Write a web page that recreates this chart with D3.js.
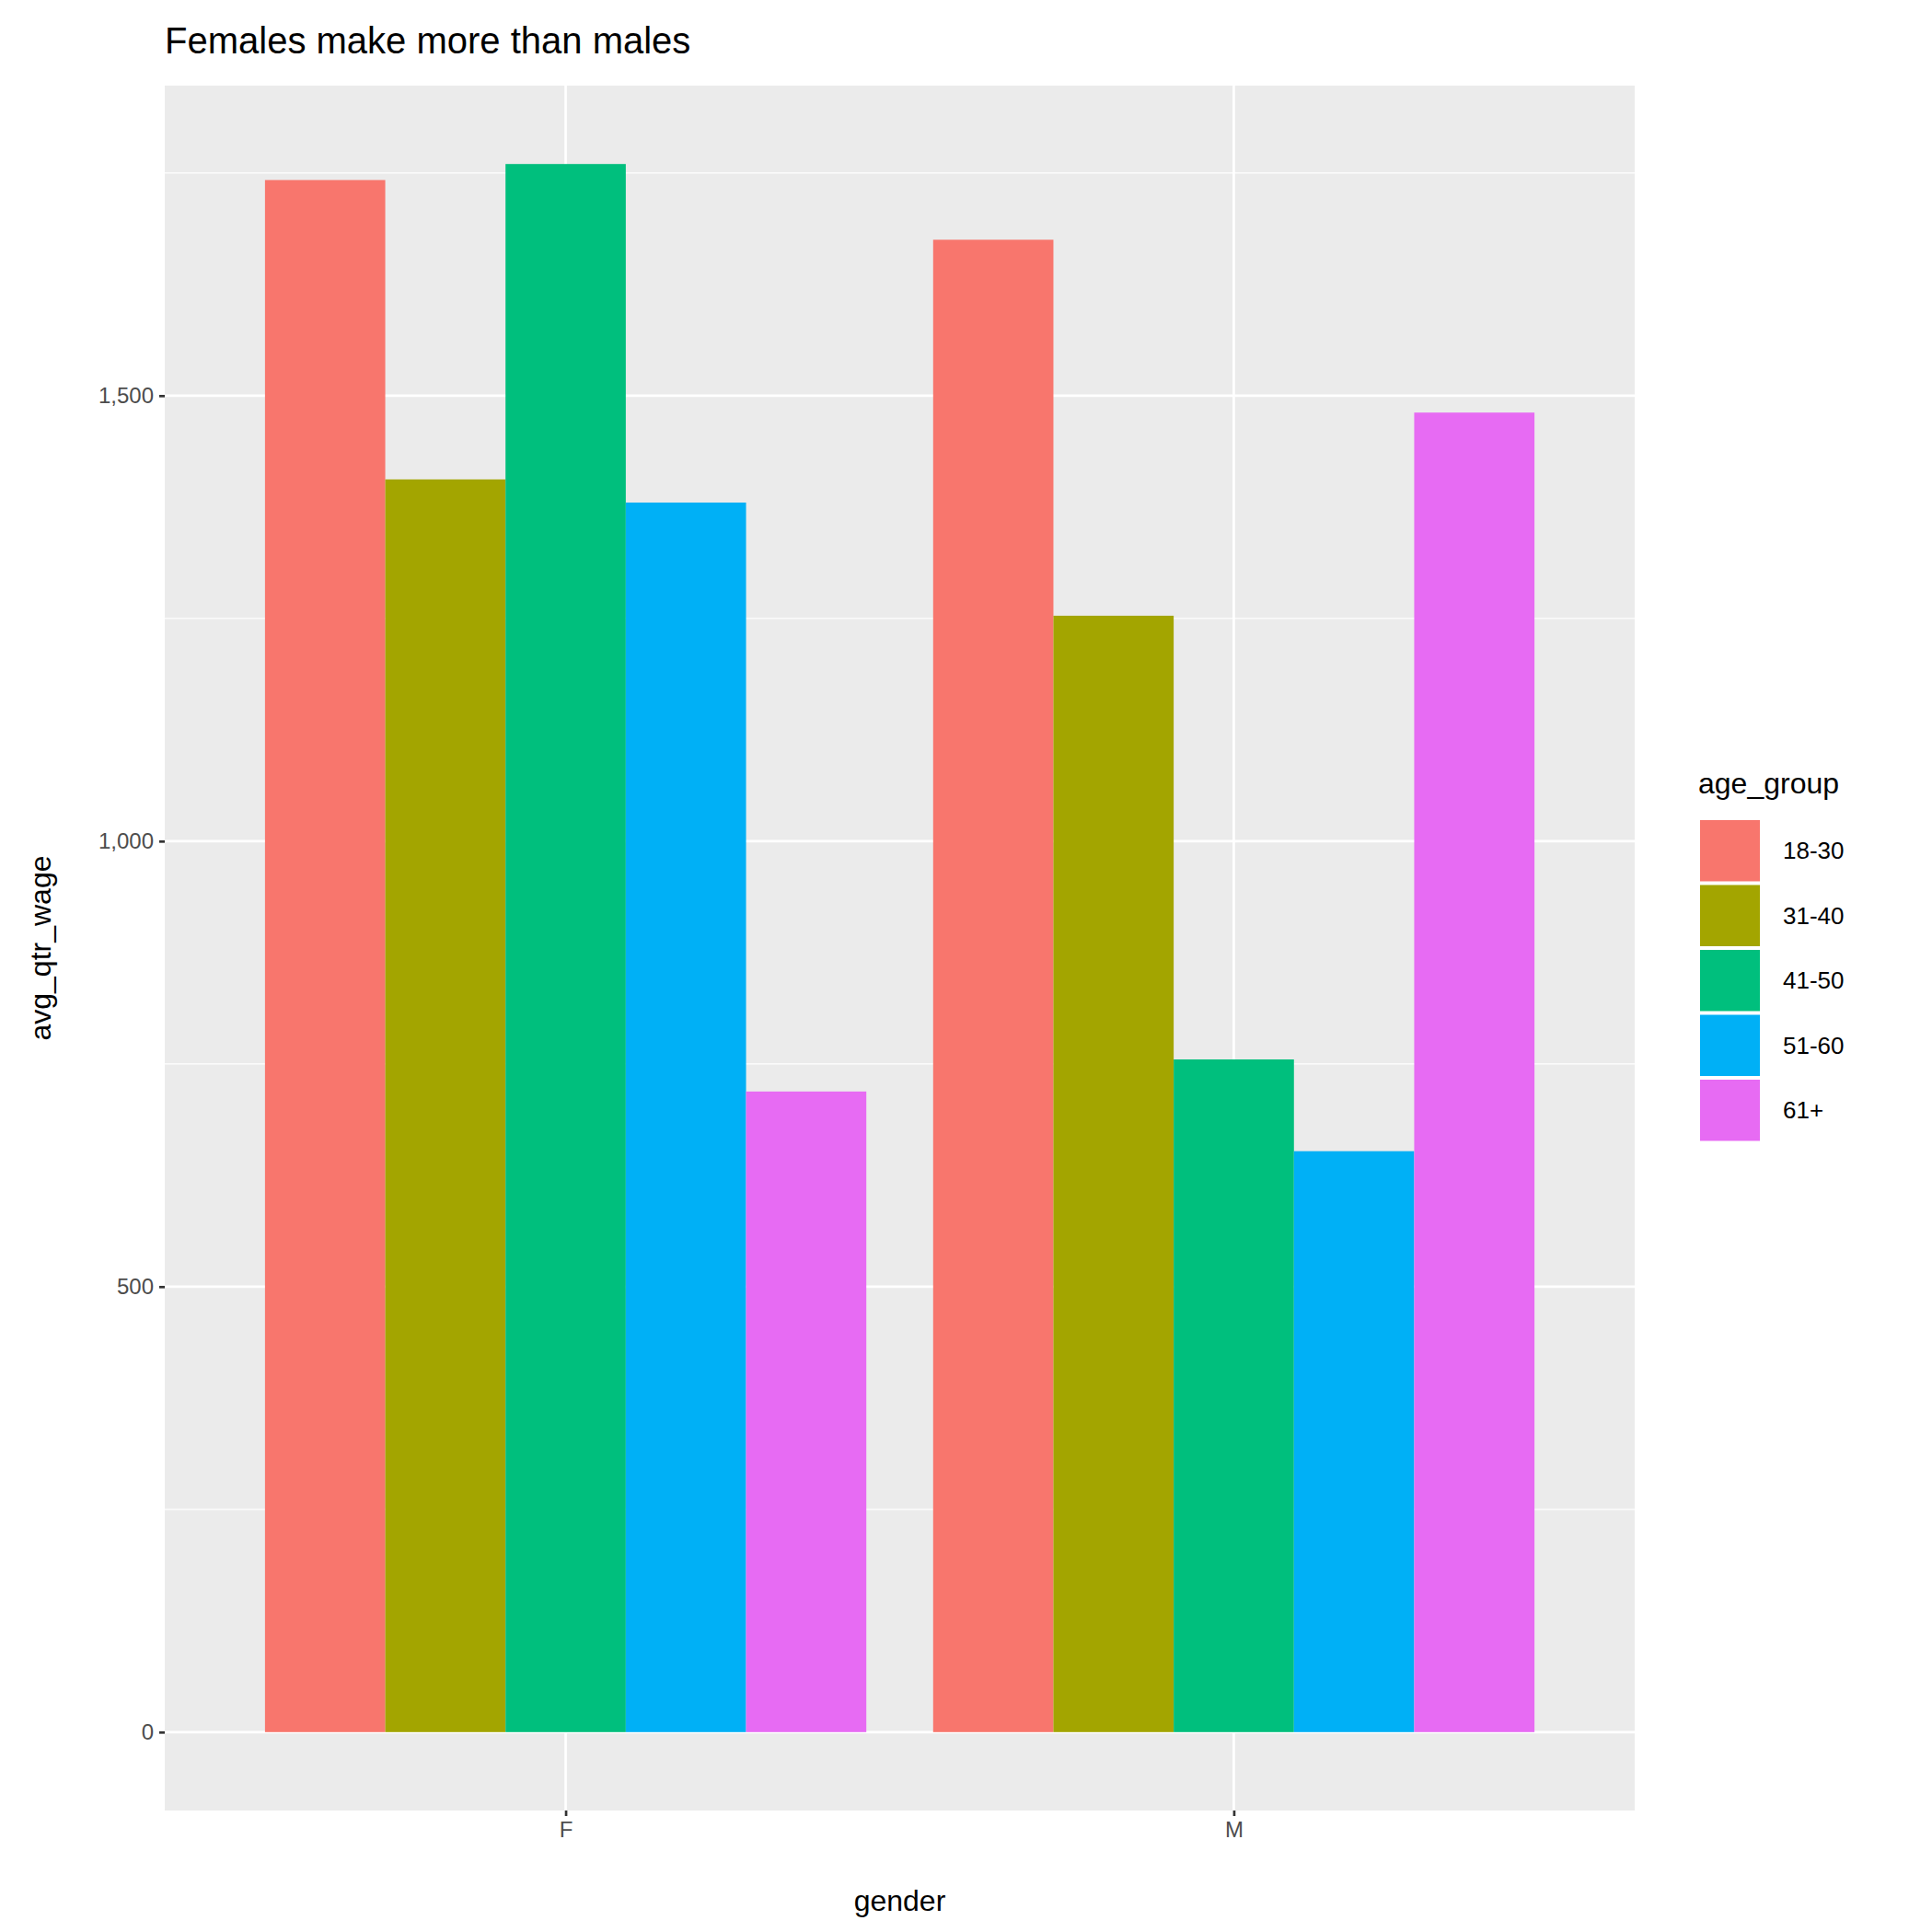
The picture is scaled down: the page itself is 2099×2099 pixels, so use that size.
<!DOCTYPE html>
<html><head><meta charset="utf-8">
<script src="https://cdn.jsdelivr.net/npm/d3@7"></script>
<style>body{margin:0;background:#fff}text{font-family:"Liberation Sans",Arial,sans-serif}</style>
</head><body><svg id="chart"></svg>
<script>
// data
const genders = ["F", "M"];
const ageGroups = ["18-30", "31-40", "41-50", "51-60", "61+"];
const wageF = [1742, 1406, 1760, 1380, 719];
const wageM = [1675, 1253, 755, 652, 1481];
const colors = ["#F8766D", "#A3A500", "#00BF7D", "#00B0F6", "#E76BF3"];
const yTicks = [0, 500, 1000, 1500];

const width = 2099, height = 2099;
const panel = { left: 179, right: 1776, top: 93, bottom: 1967 };

const rows = [];
genders.forEach((g, gi) => {
  const vals = gi === 0 ? wageF : wageM;
  ageGroups.forEach((a, ai) => rows.push({ g: g, a: a, v: vals[ai] }));
});

const svg = d3.select("#chart").attr("width", width).attr("height", height);

const ymax = d3.max(rows, d => d.v);
const yScale = d3.scaleLinear()
  .domain([-ymax * 0.05, ymax * 1.05])
  .range([panel.bottom, panel.top]);

const xScale = d3.scaleLinear()
  .domain([0.4, 2.6])
  .range([panel.left, panel.right]);

const sub = d3.scaleBand().domain(ageGroups).range([-0.45, 0.45]);
const colorScale = d3.scaleOrdinal().domain(ageGroups).range(colors);

// panel background
svg.append("rect")
  .attr("x", panel.left).attr("y", panel.top)
  .attr("width", panel.right - panel.left).attr("height", panel.bottom - panel.top)
  .attr("fill", "#EBEBEB");

// minor grid
const minor = [250, 750, 1250, 1750];
svg.selectAll(".minor").data(minor).enter().append("line")
  .attr("x1", panel.left).attr("x2", panel.right)
  .attr("y1", d => yScale(d)).attr("y2", d => yScale(d))
  .attr("stroke", "#fff").attr("stroke-width", 1.3);

// major grid
svg.selectAll(".major").data(yTicks).enter().append("line")
  .attr("x1", panel.left).attr("x2", panel.right)
  .attr("y1", d => yScale(d)).attr("y2", d => yScale(d))
  .attr("stroke", "#fff").attr("stroke-width", 2.7);
svg.selectAll(".vmajor").data(genders).enter().append("line")
  .attr("x1", (d, i) => xScale(i + 1)).attr("x2", (d, i) => xScale(i + 1))
  .attr("y1", panel.top).attr("y2", panel.bottom)
  .attr("stroke", "#fff").attr("stroke-width", 2.7);

// bars
svg.selectAll(".bar").data(rows).enter().append("rect")
  .attr("x", d => xScale(genders.indexOf(d.g) + 1 + sub(d.a)))
  .attr("width", xScale(1 + sub.bandwidth()) - xScale(1))
  .attr("y", d => yScale(d.v))
  .attr("height", d => yScale(0) - yScale(d.v))
  .attr("fill", d => colorScale(d.a));

// y axis
const yAxis = svg.append("g").attr("transform", "translate(" + panel.left + ",0)")
  .call(d3.axisLeft(yScale).tickValues(yTicks).tickSize(6).tickPadding(6));
yAxis.select(".domain").remove();
yAxis.selectAll("line").attr("stroke", "#333").attr("stroke-width", 2.7);
yAxis.selectAll("text").attr("fill", "#4D4D4D").style("font-size", "24px");

// x axis
const xAxis = svg.append("g").attr("transform", "translate(0," + panel.bottom + ")")
  .call(d3.axisBottom(xScale).tickValues([1, 2]).tickFormat(d => genders[d - 1]).tickSize(6).tickPadding(6));
xAxis.select(".domain").remove();
xAxis.selectAll("line").attr("stroke", "#333").attr("stroke-width", 2.7);
xAxis.selectAll("text").attr("fill", "#4D4D4D").style("font-size", "24px");

// axis titles
svg.append("text")
  .attr("x", (panel.left + panel.right) / 2).attr("y", 2076)
  .attr("text-anchor", "middle").style("font-size", "32px")
  .text("gender");
svg.append("text")
  .attr("transform", "translate(55," + (panel.top + panel.bottom) / 2 + ") rotate(-90)")
  .attr("text-anchor", "middle").style("font-size", "32px")
  .text("avg_qtr_wage");

// title
svg.append("text")
  .attr("x", panel.left).attr("y", 58)
  .style("font-size", "40px")
  .text("Females make more than males");

// legend
const legend = svg.append("g").attr("transform", "translate(1845,0)");
legend.append("text").attr("x", 0).attr("y", 862).style("font-size", "32px").text("age_group");
const items = legend.selectAll(".leg").data(ageGroups).enter().append("g")
  .attr("transform", (d, i) => "translate(0," + (889 + i * 70.5) + ")");
items.append("rect").attr("x", 1).attr("y", 1).attr("width", 67).attr("height", 68.5)
  .attr("fill", d => colorScale(d)).attr("stroke", "#fff").attr("stroke-width", 2);
items.append("text").attr("x", 92).attr("y", 44).style("font-size", "26px").text(d => d);
</script></body></html>
